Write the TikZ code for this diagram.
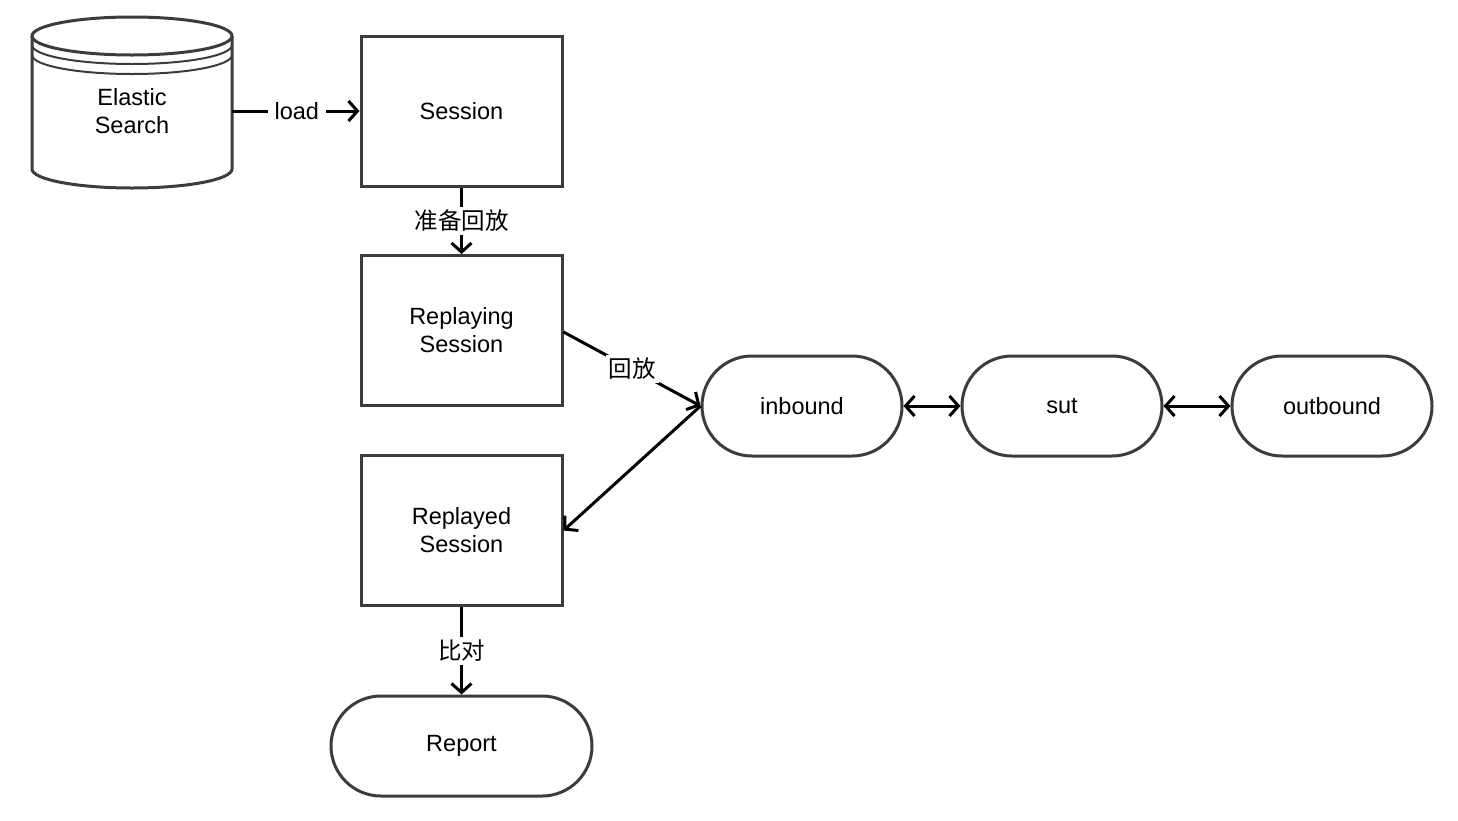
\documentclass[tikz,border=0pt]{standalone}
\usepackage{fontspec}
\setmainfont{Liberation Sans}
\newfontfamily\cjk{Noto Sans CJK SC}
\usetikzlibrary{arrows.meta}
\definecolor{shapeline}{HTML}{3C3C3C}
\tikzset{
  txt/.style={font=\fontsize{23.5}{28}\selectfont, align=center},
  boxnode/.style={txt, draw=shapeline, line width=3pt, minimum width=201pt, minimum height=150pt, inner sep=0pt},
  pill/.style={txt, draw=shapeline, line width=3pt, minimum width=200pt, minimum height=100pt, rounded corners=50pt, inner sep=0pt},
  conn/.style={line width=3pt, black, -{Straight Barb[length=9pt,width=20pt]}},
  biconn/.style={line width=3pt, black, {Straight Barb[length=9pt,width=20pt]}-{Straight Barb[length=9pt,width=20pt]}},
  lbl/.style={txt, fill=white, inner sep=3pt},
  cyl/.style={draw=shapeline, line width=3pt}
}
\begin{document}
\begin{tikzpicture}[x=1pt,y=1pt]
\useasboundingbox[fill=white] (0,0) rectangle (1458,-820);
% cylinder
\draw[cyl] (32,-36) -- (32,-169) arc[start angle=180, end angle=360, x radius=100, y radius=19] -- (232,-36);
\draw[cyl] (132,-36) ellipse[x radius=100, y radius=19];
\draw[draw=shapeline, line width=2pt] (32,-45) arc[start angle=180, end angle=360, x radius=100, y radius=19];
\draw[draw=shapeline, line width=2pt] (32,-55) arc[start angle=180, end angle=360, x radius=100, y radius=19];
\node[txt, minimum width=200pt, minimum height=100pt, inner sep=0pt] (es) at (132,-111) {Elastic\\Search};

\node[boxnode] (session) at (461.5,-111) {Session};
\node[boxnode] (replaying) at (461.5,-330.5) {Replaying\\Session};
\node[boxnode] (replayed) at (461.5,-530.5) {Replayed\\Session};
\node[pill, minimum width=261pt] (report) at (461.5,-746) {Report};
\node[pill] (inbound) at (802,-406) {inbound};
\node[pill] (sut) at (1062,-406) {sut};
\node[pill] (outbound) at (1332,-406) {outbound};

\draw[conn] (es.east) -- node[lbl, inner xsep=7pt, xshift=1pt] {load} (session.west);
\draw[conn] (session.south) -- node[lbl] {\cjk 准备回放} (replaying.north);
\draw[conn] ([yshift=-1.5pt]replaying.east) -- node[lbl, pos=0.5] {\cjk 回放} (inbound.west);
\draw[conn] (inbound.west) -- (replayed.east);
\draw[conn] (replayed.south) -- node[lbl] {\cjk 比对} (report.north);
\draw[biconn] (inbound.east) -- (sut.west);
\draw[biconn] (sut.east) -- (outbound.west);
\end{tikzpicture}
\end{document}
